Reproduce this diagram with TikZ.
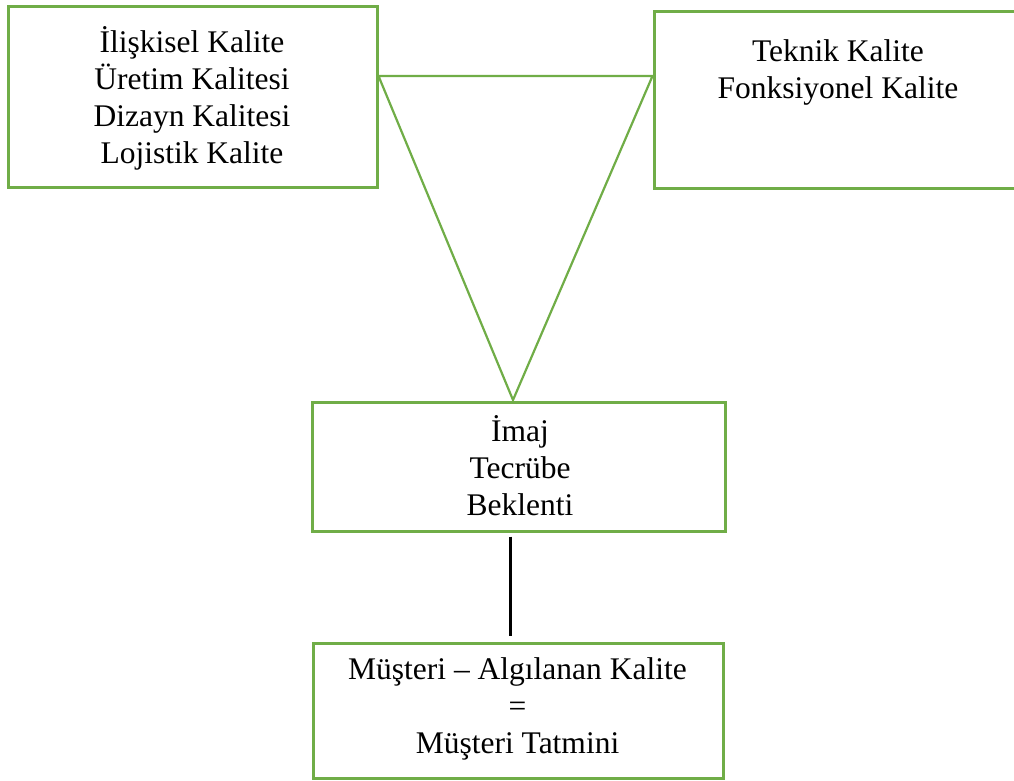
\documentclass[tikz,border=0pt]{standalone}
\usepackage{fontspec}
\setmainfont{Liberation Serif}
\definecolor{framegreen}{HTML}{70AD47}
\begin{document}
\begin{tikzpicture}[x=1pt, y=-1pt,
  box/.style={draw=framegreen, line width=3pt, inner sep=0pt, fill=none},
  label/.style={align=center, anchor=base, inner sep=0pt,
    font=\fontsize{31.5}{36.8}\selectfont},
  link/.style={draw=framegreen, line width=2.2pt, line join=miter}]
\useasboundingbox (0,0) rectangle (1014,780);

% frames
\node[box, minimum width=369pt, minimum height=181pt] (lbox) at (192.5,96.5) {};
\node[box, minimum width=366pt, minimum height=177pt] (rbox) at (837,99.5) {};
\node[box, minimum width=413pt, minimum height=129pt] (mbox) at (518.5,466.5) {};
\node[box, minimum width=410pt, minimum height=135pt] (bbox) at (518,710.5) {};

% texts (anchored at the baseline of the last line)
\node[label] (ltext) at (192,163) {İlişkisel Kalite\\Üretim Kalitesi\\Dizayn Kalitesi\\Lojistik Kalite};
\node[label] (rtext) at (838,98) {Teknik Kalite\\Fonksiyonel Kalite};
\node[label] (mtext) at (520,515) {İmaj\\Tecrübe\\Beklenti};
\node[label] (btext) at (517.5,753) {Müşteri – Algılanan Kalite\\=\\Müşteri Tatmini};

% inverted triangle between the upper frames
\coordinate (tl) at (lbox.east |- 0,76);
\coordinate (tr) at (rbox.west |- 0,76);
\coordinate (apex) at (513,400);
\draw[link] (tl) -- (tr) -- (apex) -- cycle;

% vertical connector
\coordinate (lx) at (510,0);
\draw[black, line width=3pt, shorten <=4pt, shorten >=6pt] (mbox.south -| lx) -- (bbox.north -| lx);
\end{tikzpicture}
\end{document}
